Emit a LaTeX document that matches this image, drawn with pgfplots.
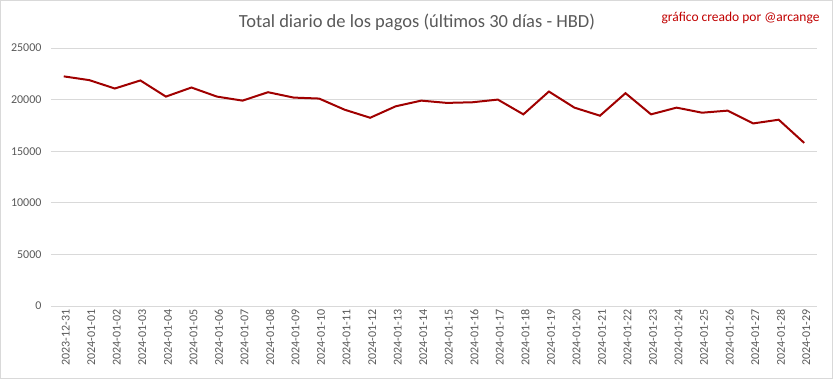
\documentclass[border=0pt]{standalone}
\usepackage{fontspec}
\setmainfont{Carlito}
\usepackage{pgfplots}
\pgfplotsset{compat=1.18}
\definecolor{linered}{HTML}{A00000}
\definecolor{txtgray}{HTML}{595959}
\definecolor{gridgray}{HTML}{D9D9D9}
\definecolor{wmred}{HTML}{C00000}
\begin{document}
\begin{tikzpicture}[x=1pt,y=1pt]
\useasboundingbox (0,0) rectangle (833,379);
\draw[gridgray, line width=0.8pt] (0.5,0.5) rectangle (832.5,378.5);
\node[txtgray, font=\fontsize{18.5}{20}\selectfont] at (417,357) {Total diario de los pagos (últimos 30 días - HBD)};
\node[wmred, anchor=east, font=\fontsize{13.5}{15}\selectfont] at (823,361.5) {gráfico creado por @arcange};
\begin{axis}[
  at={(51pt,73pt)}, anchor=south west,
  scale only axis, width=766pt, height=258pt,
  xmin=-0.5, xmax=29.5, ymin=0, ymax=25000,
  axis line style={draw=none},
  ytick={0,5000,10000,15000,20000,25000},
  scaled y ticks=false,
  ymajorgrids, grid style={gridgray, line width=0.8pt},
  major tick length=0pt,
  /pgf/number format/1000 sep={},
  /pgf/number format/assume math mode=true,
  yticklabel style={txtgray, font=\fontsize{12}{14}\selectfont, anchor=east, xshift=-6pt},
  xtick={0,...,29},
  xticklabels={2023-12-31,2024-01-01,2024-01-02,2024-01-03,2024-01-04,2024-01-05,2024-01-06,2024-01-07,2024-01-08,2024-01-09,2024-01-10,2024-01-11,2024-01-12,2024-01-13,2024-01-14,2024-01-15,2024-01-16,2024-01-17,2024-01-18,2024-01-19,2024-01-20,2024-01-21,2024-01-22,2024-01-23,2024-01-24,2024-01-25,2024-01-26,2024-01-27,2024-01-28,2024-01-29},
  xticklabel style={txtgray, font=\fontsize{12}{14}\selectfont, rotate=90, anchor=east, yshift=-2pt},
]
\addplot[linered, line width=2pt, mark=none] coordinates {
(0,22250) (1,21885) (2,21075) (3,21855) (4,20290) (5,21170) (6,20290) (7,19900) (8,20715) (9,20195)
(10,20100) (11,19020) (12,18240) (13,19350) (14,19900) (15,19680) (16,19740) (17,20000) (18,18570) (19,20780)
(20,19220) (21,18440) (22,20620) (23,18570) (24,19220) (25,18730) (26,18930) (27,17690) (28,18050) (29,15800)
};
\end{axis}
\end{tikzpicture}
\end{document}
